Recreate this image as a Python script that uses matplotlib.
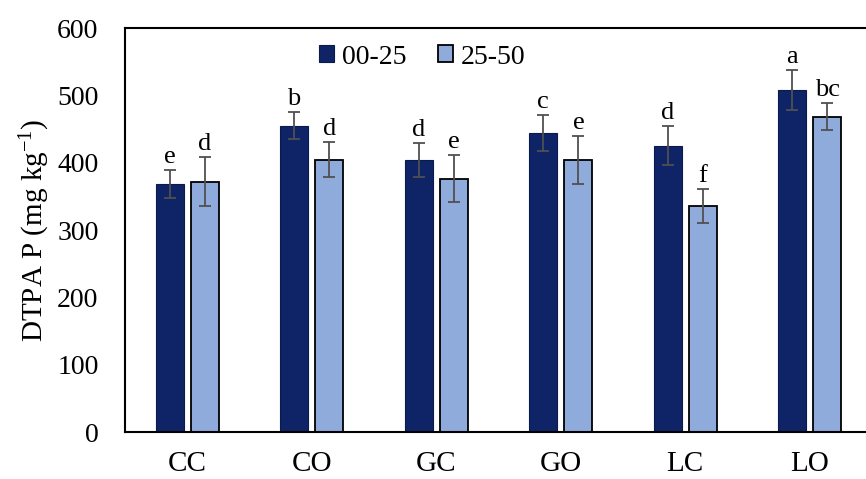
import matplotlib
matplotlib.use("Agg")
import matplotlib.pyplot as plt
import numpy as np

categories = ["CC", "CO", "GC", "GO", "LC", "LO"]
series_names = ["00-25", "25-50"]
vals_0025 = [368, 455, 404, 444, 425, 508]
err_0025 = [21, 20, 25, 27, 29, 30]
vals_2550 = [372, 404, 376, 404, 336, 468]
err_2550 = [37, 26, 35, 35, 25, 20]
letters_0025 = ["e", "b", "d", "c", "d", "a"]
letters_2550 = ["d", "d", "e", "e", "f", "bc"]
yticks = [0, 100, 200, 300, 400, 500, 600]

plt.rcParams['font.family'] = ['Liberation Serif', 'DejaVu Serif']
plt.rcParams['mathtext.fontset'] = 'custom'
plt.rcParams['mathtext.rm'] = 'Liberation Serif'
plt.rcParams['mathtext.it'] = 'Liberation Serif:italic'

fig = plt.figure(figsize=(8.66, 4.79), dpi=100)
ax = fig.add_axes([0.1443, 0.0981, 0.8627, 0.8434])

x = np.arange(len(categories))
w = 0.225
off = 0.142
dark = "#0e2466"
light = "#8fabdc"
ekw = dict(ecolor="#505050", capsize=4, elinewidth=1.3, capthick=1.3)

ax.bar(x - off, vals_0025, w, color=dark, edgecolor="#0a1a4a", linewidth=0.8,
       yerr=err_0025, error_kw=ekw, label=series_names[0], zorder=2)
ax.bar(x + off, vals_2550, w, color=light, edgecolor="black", linewidth=1.3,
       yerr=err_2550, error_kw=ekw, label=series_names[1], zorder=2)

for i in range(len(categories)):
    ax.text(x[i] - off, vals_0025[i] + err_0025[i] + 3, letters_0025[i],
            ha="center", va="bottom", fontsize=19)
    ax.text(x[i] + off, vals_2550[i] + err_2550[i] + 3, letters_2550[i],
            ha="center", va="bottom", fontsize=19)

ax.set_xlim(-0.5, len(categories) - 0.5)
ax.set_ylim(0, 600)
ax.set_yticks(yticks)
ax.set_xticks(x)
ax.set_xticklabels(categories, fontsize=21)
ax.tick_params(axis="y", labelsize=20, length=0, pad=19)
ax.tick_params(axis="x", length=0, pad=14)
ax.set_ylabel("DTPA P (mg kg$^{\\mathrm{-1}}$)", fontsize=21, labelpad=4)

for s in ["left", "top", "bottom"]:
    ax.spines[s].set_linewidth(1.5)
    ax.spines[s].set_color("black")
ax.spines["right"].set_visible(False)

leg = ax.legend(loc="center", bbox_to_anchor=(0.398, 0.928), ncol=2, frameon=False,
                fontsize=20, handlelength=0.55, handleheight=0.55, handletextpad=0.3,
                columnspacing=1.1)

fig.savefig("out.png", dpi=100)
